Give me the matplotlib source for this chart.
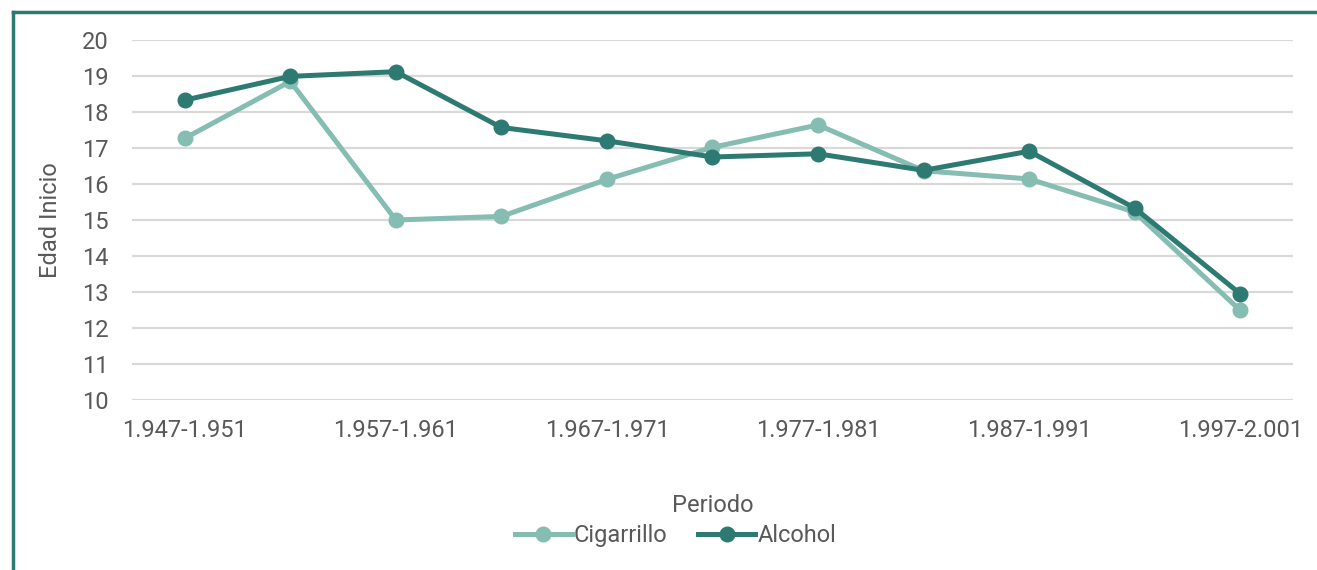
import matplotlib.pyplot as plt
from matplotlib.lines import Line2D

periodos = ["1.947-1.951", "1.952-1.956", "1.957-1.961", "1.962-1.966",
            "1.967-1.971", "1.972-1.976", "1.977-1.981", "1.982-1.986",
            "1.987-1.991", "1.992-1.996", "1.997-2.001"]
cigarrillo = [17.27, 18.85, 15.0, 15.1, 16.13, 17.02, 17.64, 16.37, 16.14, 15.22, 12.49]
alcohol = [18.33, 18.99, 19.12, 17.57, 17.2, 16.75, 16.84, 16.38, 16.91, 15.33, 12.95]

dark = "#2d7a72"
light = "#85bdb2"
gris = "#595959"

plt.rcParams['font.family'] = ['Roboto', 'DejaVu Sans']

fig = plt.figure(figsize=(13.17, 5.70), dpi=100)
ax = fig.add_axes([0.1002, 0.2982, 0.8816, 0.6316])

x = range(len(periodos))
ax.plot(x, cigarrillo, color=light, lw=3.6, marker="o", ms=10.5, label="Cigarrillo", zorder=3)
ax.plot(x, alcohol, color=dark, lw=3.6, marker="o", ms=10.5, label="Alcohol", zorder=4)

ax.set_xlim(-0.5, len(periodos) - 0.5)
ax.set_ylim(10, 20)
ax.set_yticks(range(10, 21))
ax.set_xticks(list(x)[::2])
ax.set_xticklabels(periodos[::2])
ax.tick_params(length=0, labelsize=17, colors=gris)
ax.tick_params(axis="x", pad=14)
ax.tick_params(axis="y", pad=17)
ax.grid(axis="y", color="#d9d9d9", lw=1.6)
ax.set_axisbelow(True)
for s in ax.spines.values():
    s.set_visible(False)

ax.set_ylabel("Edad Inicio", fontsize=17, color=gris, labelpad=14)
ax.set_xlabel("Periodo", fontsize=17, color=gris, labelpad=37)

leg = fig.legend(loc="center", bbox_to_anchor=(0.513, 0.06), ncol=2, frameon=False,
                 fontsize=17, handlelength=2.4, columnspacing=1.3, handletextpad=0.1)
for t in leg.get_texts():
    t.set_color(gris)

# teal frame on top and left edges
fig.add_artist(Line2D([0.0098, 0.0098], [0, 0.979], transform=fig.transFigure, color=dark, lw=2.5))
fig.add_artist(Line2D([0.0098, 1.0], [0.979, 0.979], transform=fig.transFigure, color=dark, lw=2.5))

fig.savefig("out.png", dpi=100)
